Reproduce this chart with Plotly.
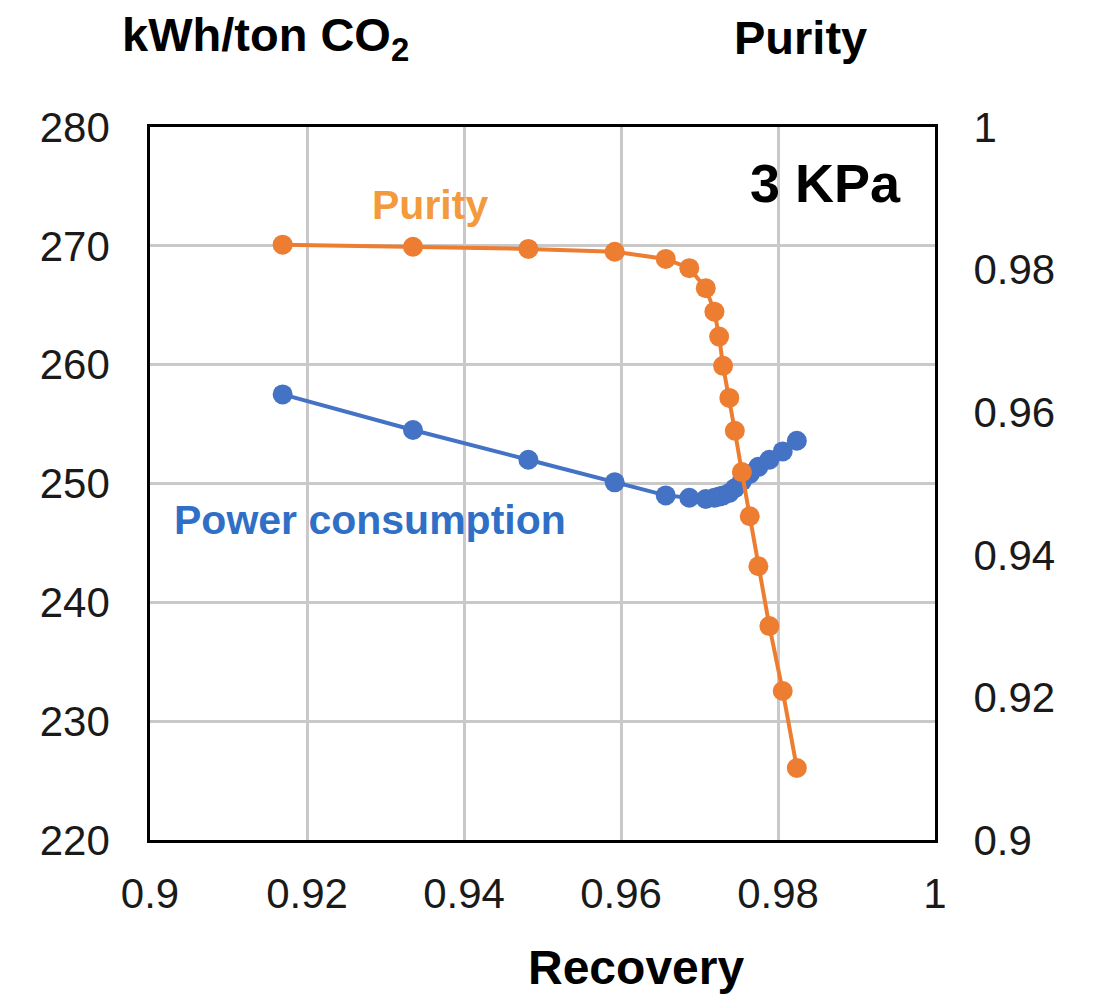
import plotly.graph_objects as go

recovery = [0.9169, 0.9335, 0.9482, 0.9592, 0.9657, 0.9687, 0.9708, 0.9719, 0.9725,
            0.9730, 0.9738, 0.9745, 0.9754, 0.9764, 0.9775, 0.9789, 0.9806, 0.9824]
power = [257.5, 254.5, 252.0, 250.1, 249.0, 248.8, 248.7, 248.8, 248.9,
         249.0, 249.2, 249.6, 250.2, 250.8, 251.4, 252.0, 252.7, 253.6]
purity = [0.9835, 0.9832, 0.9829, 0.9825, 0.9815, 0.9802, 0.9774, 0.9741, 0.9706,
          0.9665, 0.9620, 0.9574, 0.9516, 0.9454, 0.9384, 0.9300, 0.9209, 0.9101]

x_ticks = [0.9, 0.92, 0.94, 0.96, 0.98, 1.0]
x_tick_text = ["0.9", "0.92", "0.94", "0.96", "0.98", "1"]
y_ticks = [220, 230, 240, 250, 260, 270, 280]
y2_ticks = [0.9, 0.92, 0.94, 0.96, 0.98, 1.0]
y2_tick_text = ["0.9", "0.92", "0.94", "0.96", "0.98", "1"]

FONT = "Liberation Sans, Arial, sans-serif"
ORANGE = "#ED7D31"
BLUE = "#4472C4"

fig = go.Figure()
fig.add_trace(go.Scatter(
    x=recovery, y=power, mode="lines+markers", name="Power consumption",
    line=dict(color=BLUE, width=4), marker=dict(color=BLUE, size=20),
    yaxis="y"))
fig.add_trace(go.Scatter(
    x=recovery, y=purity, mode="lines+markers", name="Purity",
    line=dict(color=ORANGE, width=4), marker=dict(color=ORANGE, size=20),
    yaxis="y2"))

fig.update_layout(
    width=1080, height=989,
    margin=dict(l=142, r=153, t=119, b=157),
    paper_bgcolor="white", plot_bgcolor="white",
    showlegend=False,
    font=dict(family=FONT, size=42, color="#1a1a1a"),
    xaxis=dict(range=[0.9, 1.0], tickvals=x_ticks, ticktext=x_tick_text,
               showgrid=True, gridcolor="#c9c9c9", gridwidth=2.5,
               showline=True, linecolor="black", linewidth=2.5, mirror=True,
               ticks="outside", ticklen=15, tickcolor="rgba(0,0,0,0)",
               zeroline=False, fixedrange=True),
    yaxis=dict(range=[220, 280], tickvals=y_ticks,
               showgrid=True, gridcolor="#c9c9c9", gridwidth=2.5,
               showline=True, linecolor="black", linewidth=2.5, mirror=True,
               ticks="outside", ticklen=29, tickcolor="rgba(0,0,0,0)",
               zeroline=False),
    yaxis2=dict(range=[0.9, 1.0], tickvals=y2_ticks, ticktext=y2_tick_text,
                overlaying="y", side="right", showgrid=False,
                ticks="outside", ticklen=29, tickcolor="rgba(0,0,0,0)",
                zeroline=False),
)

ann = [
    dict(text="<b>kWh/ton CO<sub>2</sub></b>", x=265, y=38, size=47, color="black"),
    dict(text="<b>Purity</b>", x=800, y=38, size=47, color="black"),
    dict(text="<b>Recovery</b>", x=636, y=967, size=48, color="black"),
    dict(text="<b>3 KPa</b>", x=825, y=183, size=54, color="black"),
    dict(text="<b>Purity</b>", x=430, y=205, size=41, color="#F39A3C"),
    dict(text="<b>Power consumption</b>", x=370, y=520, size=41, color="#2F70C6"),
]
for a in ann:
    fig.add_annotation(text=a["text"], xref="paper", yref="paper",
                       x=(a["x"] - 150) / 785, y=(840 - a["y"]) / 713,
                       xanchor="center", yanchor="middle", showarrow=False,
                       font=dict(family=FONT, size=a["size"], color=a["color"]))

fig.write_html("out.html")
